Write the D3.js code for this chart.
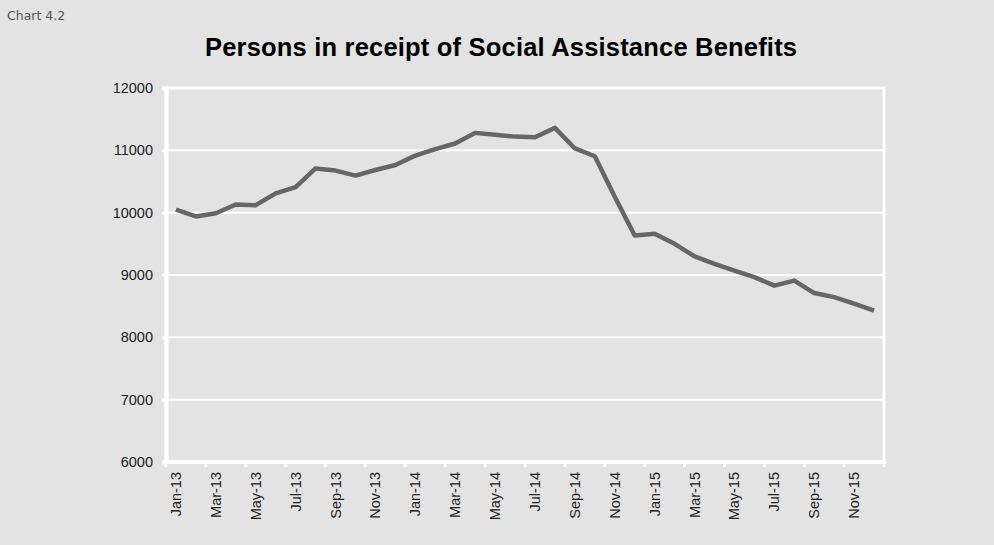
<!DOCTYPE html>
<html>
<head>
<meta charset="utf-8">
<script src="https://cdn.jsdelivr.net/npm/d3@7"></script>
<style>
  html, body { margin: 0; padding: 0; background: #e3e3e3; }
  svg { display: block; }
</style>
</head>
<body>
<svg id="chart" width="994" height="545"></svg>
<script>
const months = [
  "Jan-13","Feb-13","Mar-13","Apr-13","May-13","Jun-13","Jul-13","Aug-13","Sep-13","Oct-13","Nov-13","Dec-13",
  "Jan-14","Feb-14","Mar-14","Apr-14","May-14","Jun-14","Jul-14","Aug-14","Sep-14","Oct-14","Nov-14","Dec-14",
  "Jan-15","Feb-15","Mar-15","Apr-15","May-15","Jun-15","Jul-15","Aug-15","Sep-15","Oct-15","Nov-15","Dec-15"
];
const persons = [
  10050, 9940, 9990, 10130, 10120, 10310, 10410, 10710, 10675, 10595, 10685, 10765,
  10915, 11020, 11110, 11280, 11250, 11220, 11210, 11360, 11030, 10905, 10255, 9635,
  9660, 9500, 9300, 9180, 9070, 8965, 8830, 8910, 8710, 8645, 8540, 8430
];
const yTicks = [6000, 7000, 8000, 9000, 10000, 11000, 12000];
const title = "Persons in receipt of Social Assistance Benefits";
const chartLabel = "Chart 4.2";

const svg = d3.select("#chart");
const m = { left: 166, right: 884, top: 88, bottom: 462 };

const x = d3.scaleBand().domain(months).range([m.left, m.right]).padding(0);
const y = d3.scaleLinear().domain([6000, 12000]).range([m.bottom, m.top]);

svg.append("rect").attr("width", 994).attr("height", 545).attr("fill", "#e3e3e3");

svg.append("text").attr("x", 7).attr("y", 20)
  .attr("font-family", "DejaVu Sans, sans-serif").attr("font-size", 12.5)
  .attr("fill", "#555").text(chartLabel);

svg.append("text").attr("x", 205).attr("y", 56)
  .attr("font-family", "Liberation Sans, Arial, sans-serif").attr("font-weight", "bold")
  .attr("font-size", 25.5).attr("fill", "#000")
  .attr("textLength", 592).attr("lengthAdjust", "spacing").text(title);

// plot border
svg.append("rect").attr("x", m.left).attr("y", m.top)
  .attr("width", m.right - m.left).attr("height", m.bottom - m.top)
  .attr("fill", "none").attr("stroke", "#fff").attr("stroke-width", 3);

// gridlines
svg.append("g").selectAll("line").data(yTicks).join("line")
  .attr("x1", m.left).attr("x2", m.right)
  .attr("y1", d => y(d)).attr("y2", d => y(d))
  .attr("stroke", "#fff").attr("stroke-width", 2);

// y axis
const yAxis = svg.append("g").attr("transform", `translate(${m.left},0)`)
  .call(d3.axisLeft(y).tickValues(yTicks).tickSize(4).tickPadding(9).tickFormat(d3.format("d")));
yAxis.select(".domain").attr("stroke", "#fff").attr("stroke-width", 4);
yAxis.selectAll(".tick line").attr("stroke", "#fff").attr("stroke-width", 3);
yAxis.selectAll("text").attr("font-family", "Liberation Sans, Arial, sans-serif")
  .attr("font-size", 14.5).attr("fill", "#222");

// x axis
const xAxisG = svg.append("g").attr("transform", `translate(0,${m.bottom})`);
xAxisG.append("line").attr("x1", m.left - 2).attr("x2", m.right + 1)
  .attr("y1", 0).attr("y2", 0).attr("stroke", "#fff").attr("stroke-width", 4);
const tickIdx = d3.range(0, months.length + 1, 2);
xAxisG.selectAll("line.tk").data(tickIdx).join("line").attr("class", "tk")
  .attr("x1", i => i < months.length ? x(months[i]) : m.right)
  .attr("x2", i => i < months.length ? x(months[i]) : m.right)
  .attr("y1", 0).attr("y2", 5).attr("stroke", "#fff").attr("stroke-width", 3);
xAxisG.selectAll("text").data(months.filter((d, i) => i % 2 === 0)).join("text")
  .attr("transform", d => `translate(${x(d) + x.bandwidth() / 2 + 5},10) rotate(-90)`)
  .attr("text-anchor", "end")
  .attr("font-family", "Liberation Sans, Arial, sans-serif").attr("font-size", 14.5)
  .attr("fill", "#222").text(d => d);

// line
const line = d3.line()
  .x((d, i) => x(months[i]) + x.bandwidth() / 2)
  .y(d => y(d));
svg.append("path").datum(persons).attr("d", line)
  .attr("fill", "none").attr("stroke", "#666").attr("stroke-width", 4.5)
  .attr("stroke-linejoin", "round");
</script>
</body>
</html>
